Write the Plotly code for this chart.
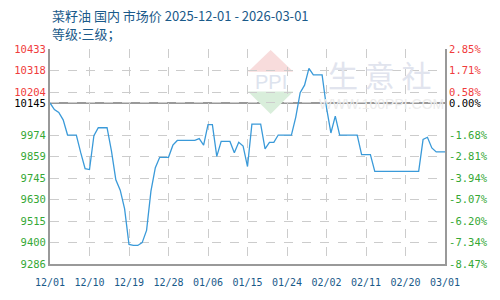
import pandas as pd
import plotly.graph_objects as go

start_date = "2025-12-01"
end_date = "2026-03-01"
prices = [
    10145, 10110, 10095, 10055, 9974, 9974, 9974, 9880, 9795, 9790,
    9970, 10013, 10013, 10013, 9890, 9735, 9680, 9580, 9390, 9385,
    9385, 9400, 9465, 9675, 9800, 9855, 9855, 9855, 9920, 9945,
    9945, 9945, 9945, 9945, 9955, 9920, 10030, 10030, 9860, 9940,
    9940, 9940, 9880, 9935, 9915, 9806, 10032, 10032, 10032, 9900,
    9935, 9935, 9974, 9974, 9974, 9974, 10070, 10200, 10240, 10330,
    10295, 10295, 10295, 10120, 9985, 10075, 9974, 9974, 9974, 9974,
    9974, 9870, 9870, 9870, 9780, 9780, 9780, 9780, 9780, 9780,
    9780, 9780, 9780, 9780, 9780, 9950, 9962, 9905, 9884, 9884,
    9884,
]
base_value = 10145
y_tickvals = [9286, 9400.7, 9515.4, 9630.1, 9744.8, 9859.5, 9974.2, 10145, 10203.6, 10318.3, 10433]
y_ticklabels = ["9286", "9400", "9515", "9630", "9745", "9859", "9974", "10145", "10204", "10318", "10433"]
pct_labels = ["-8.47%", "-7.34%", "-6.20%", "-5.07%", "-3.94%", "-2.81%", "-1.68%", "0.00%", "0.58%", "1.71%", "2.85%"]
x_tick_dates = ["2025-12-01", "2025-12-10", "2025-12-19", "2025-12-28", "2026-01-06", "2026-01-15",
                "2026-01-24", "2026-02-02", "2026-02-11", "2026-02-20", "2026-03-01"]
x_ticklabels = ["12/01", "12/10", "12/19", "12/28", "01/06", "01/15", "01/24", "02/02", "02/11", "02/20", "03/01"]
title_line1 = "菜籽油 国内 市场价 2025-12-01 - 2026-03-01"
title_line2 = "等级:三级；"

dates = pd.date_range(start_date, end_date, freq="D")

RED = "#f03c3c"
GREEN = "#35a835"
BLACK = "#000000"
BLUE_TXT = "#1a5a8a"


def colored(labels, vals):
    out = []
    for lab, v in zip(labels, vals):
        c = BLACK if abs(v - base_value) < 1 else (RED if v > base_value else GREEN)
        out.append(f"<span style='color:{c}'>{lab}</span>")
    return out


fig = go.Figure()
fig.add_trace(go.Scatter(x=dates, y=prices, mode="lines",
                         line=dict(color="#3a9ad9", width=1.3), showlegend=False))
fig.add_trace(go.Scatter(x=[dates[0]], y=[base_value], yaxis="y2", mode="lines",
                         line=dict(width=0), showlegend=False, hoverinfo="skip"))

mono = "DejaVu Sans Mono"
yr = [9286, 10433]
fig.update_layout(
    width=500, height=300,
    margin=dict(l=50, r=49, t=49, b=30),
    paper_bgcolor="white", plot_bgcolor="white",
    xaxis=dict(range=[dates[0], dates[-1]], tickvals=pd.to_datetime(x_tick_dates), ticktext=x_ticklabels,
               showgrid=True, gridcolor="#cccccc", griddash="dash", gridwidth=1,
               showline=True, linecolor="#999999", linewidth=2, mirror=False,
               ticks="", zeroline=False, ticklabelstandoff=8,
               tickfont=dict(family=mono, size=10, color=BLUE_TXT)),
    yaxis=dict(range=yr, tickvals=y_tickvals, ticktext=colored(y_ticklabels, y_tickvals),
               showgrid=True, gridcolor="#cccccc", griddash="dash", gridwidth=1,
               showline=True, linecolor="#999999", linewidth=2,
               ticks="", zeroline=False,
               tickfont=dict(family=mono, size=10.5)),
    yaxis2=dict(range=yr, overlaying="y", side="right", tickvals=y_tickvals,
                ticktext=colored(pct_labels, y_tickvals),
                showgrid=False, showline=True, linecolor="#999999", linewidth=2,
                ticks="", zeroline=False,
                tickfont=dict(family=mono, size=10.5)),
)

fig.add_shape(type="line", xref="paper", x0=0, x1=1, yref="y", y0=base_value, y1=base_value,
              line=dict(color="#999999", width=2), layer="below")

# watermark: PPI logo (diamond: red top, green bottom)
fig.add_shape(type="path", xref="paper", yref="paper",
              path="M 0.5586 0.995 L 0.5013 0.894 L 0.6160 0.894 Z",
              fillcolor="#f8dcdc", line=dict(width=0), layer="below")
fig.add_shape(type="path", xref="paper", yref="paper",
              path="M 0.5586 0.698 L 0.5013 0.802 L 0.6160 0.802 Z",
              fillcolor="#d9eedb", line=dict(width=0), layer="below")
fig.add_annotation(xref="paper", yref="paper", x=0.5586, y=0.848, xanchor="center", yanchor="middle",
                   text="PPI", showarrow=False,
                   font=dict(family="Liberation Sans", size=20, color="#dde3ee"))
fig.add_annotation(xref="paper", yref="paper", x=0.835, y=0.885, xanchor="center", yanchor="middle",
                   text="生 意 社", showarrow=False,
                   font=dict(family="Noto Sans CJK SC", size=30, color="#e1e4ee"))
fig.add_annotation(xref="paper", yref="paper", x=0.84, y=0.742, xanchor="center", yanchor="middle",
                   text="WWW.100PPI.COM", showarrow=False,
                   font=dict(family="Liberation Sans", size=14, color="#ececec"))

# titles
fig.add_annotation(xref="paper", yref="paper", x=0, y=1, yshift=34, xanchor="left", yanchor="middle",
                   text=title_line1, showarrow=False,
                   font=dict(family="Noto Sans CJK SC", size=13, color=BLUE_TXT))
fig.add_annotation(xref="paper", yref="paper", x=0, y=1, yshift=16, xanchor="left", yanchor="middle",
                   text=title_line2, showarrow=False,
                   font=dict(family="Noto Sans CJK SC", size=13, color=BLUE_TXT))

fig.write_html("out.html")
